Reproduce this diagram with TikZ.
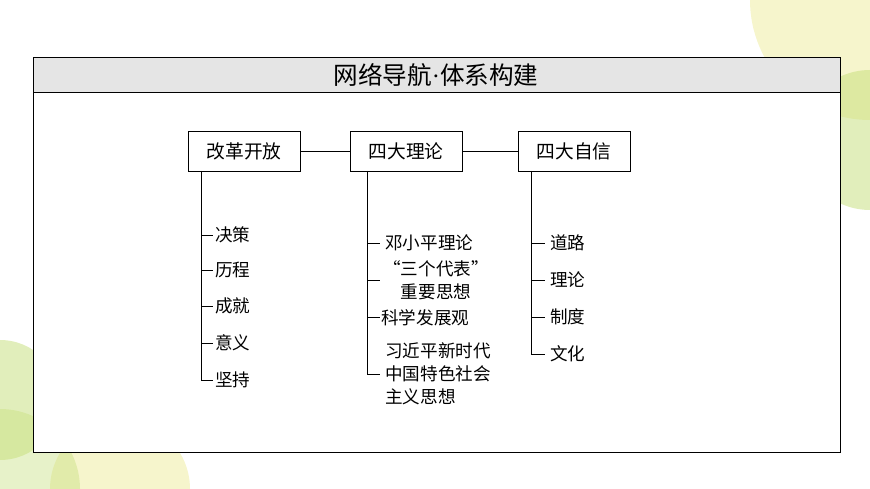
\documentclass[tikz,border=0pt]{standalone}
\usepackage{fontspec}
\setmainfont{Noto Sans CJK SC}
\newfontfamily\latindot{Liberation Serif}
\definecolor{leafgreen}{RGB}{196,222,120}
\definecolor{leafyellow}{RGB}{240,238,170}
\tikzset{
  topic/.style={draw,thick,minimum width=3.36cm,minimum height=1.2cm,inner sep=0pt,font=\fontsize{16}{18}\selectfont},
  item/.style={anchor=west,inner sep=1pt,align=left,font=\fontsize{15}{19.5}\selectfont},
  trunk/.style={thick}
}
\begin{document}
\begin{tikzpicture}[x=0.03cm,y=-0.03cm]
\useasboundingbox (0,0) rectangle (870,489);
% backdrop
\fill[leafyellow,opacity=0.6] (870,0) circle (120);
\fill[leafgreen,opacity=0.5] (870,140) circle (70);
\fill[leafgreen,opacity=0.5] (0,400) circle (60);
\fill[leafyellow,opacity=0.6] (120,489) circle (70);
\fill[leafgreen,opacity=0.4] (0,489) circle (80);
% frame
\draw[fill=white] (33,57) rectangle (840,452);
\draw[fill=gray!20] (33,57) rectangle (840,92);
\node (title) at (436,75) {\fontsize{21}{24}\selectfont 网络导航{\latindot ·}体系构建};

\node[topic] (gkkf) at (244,151) {改革开放};
\node[topic] (sdll) at (406,151) {四大理论};
\node[topic] (sdzx) at (574,151) {四大自信};
\draw[trunk] (gkkf) -- (sdll);
\draw[trunk] (sdll) -- (sdzx);

% left branch
\coordinate (lt) at (201,171);
\draw[trunk] (lt) -- (201,380) -- (213,380);
\foreach \y/\t in {235/决策,270/历程,306/成就,343/意义,380/坚持}{
  \draw[trunk] (201,\y) -- (213,\y);
  \node[item] at (214,\y) {\t};
}

% middle branch
\coordinate (mt) at (367,171);
\draw[trunk] (mt) -- (367,374) -- (380,374);
\draw[trunk] (367,243) -- (380,243);
\draw[trunk] (367,280) -- (380,280);
\draw[trunk] (367,317) -- (380,317);
\node[item] (dxp) at (384,243) {邓小平理论};
\node[item,align=center] (sgdb) at (382,280) {“三个代表”\\重要思想};
\node[item] (kxfz) at (380,318) {科学发展观};
\node[item] (xjp) at (384,374) {习近平新时代\\中国特色社会\\主义思想};

% right branch
\coordinate (rt) at (531,171);
\draw[trunk] (rt) -- (531,354) -- (545,354);
\foreach \y/\t in {243/道路,280/理论,317/制度,354/文化}{
  \draw[trunk] (531,\y) -- (545,\y);
  \node[item] at (549,\y) {\t};
}
\end{tikzpicture}
\end{document}
